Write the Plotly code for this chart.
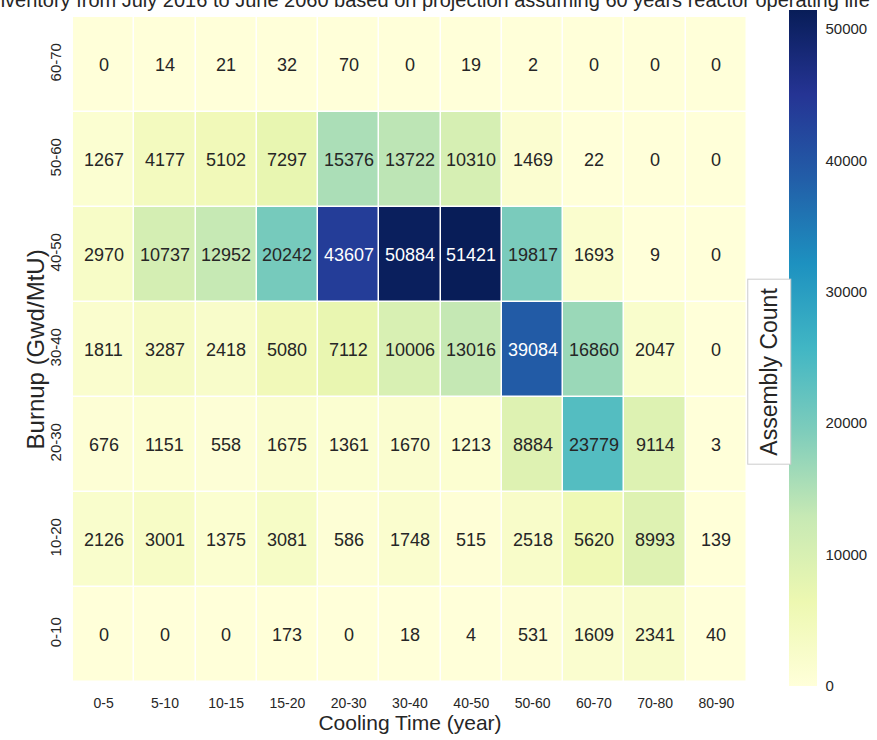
import plotly.graph_objects as go
import plotly.colors as pc

# Cooling-time bins (columns) and burnup bins (rows, bottom to top)
cooling_bins = ["0-5", "5-10", "10-15", "15-20", "20-30", "30-40",
                "40-50", "50-60", "60-70", "70-80", "80-90"]
burnup_bins = ["0-10", "10-20", "20-30", "30-40", "40-50", "50-60", "60-70"]

# Assembly counts per burnup bin, one value per cooling-time bin
burnup_0_10 = [0, 0, 0, 173, 0, 18, 4, 531, 1609, 2341, 40]
burnup_10_20 = [2126, 3001, 1375, 3081, 586, 1748, 515, 2518, 5620, 8993, 139]
burnup_20_30 = [676, 1151, 558, 1675, 1361, 1670, 1213, 8884, 23779, 9114, 3]
burnup_30_40 = [1811, 3287, 2418, 5080, 7112, 10006, 13016, 39084, 16860, 2047, 0]
burnup_40_50 = [2970, 10737, 12952, 20242, 43607, 50884, 51421, 19817, 1693, 9, 0]
burnup_50_60 = [1267, 4177, 5102, 7297, 15376, 13722, 10310, 1469, 22, 0, 0]
burnup_60_70 = [0, 14, 21, 32, 70, 0, 19, 2, 0, 0, 0]

counts = [burnup_0_10, burnup_10_20, burnup_20_30, burnup_30_40,
          burnup_40_50, burnup_50_60, burnup_60_70]

zmax = max(max(r) for r in counts)

ylgnbu = pc.sequential.YlGnBu
n = len(ylgnbu)
colorscale = [[i / (n - 1), c] for i, c in enumerate(ylgnbu)]

FONT = "Liberation Sans, Arial, sans-serif"
DARK = "#262626"

fig = go.Figure(go.Heatmap(
    z=counts,
    x=cooling_bins,
    y=burnup_bins,
    colorscale=colorscale,
    zmin=0,
    zmax=zmax,
    xgap=1.5,
    ygap=1.5,
    hoverongaps=False,
    colorbar=dict(
        x=1.062, xanchor="left", xref="paper",
        y=0.502, yanchor="middle",
        len=676, lenmode="pixels",
        thickness=28,
        xpad=0, ypad=0,
        outlinewidth=0,
        tickmode="linear", tick0=0, dtick=10000, tickformat="d",
        ticks="outside", ticklen=6, tickcolor="rgba(0,0,0,0)",
        tickfont=dict(family=FONT, size=15, color=DARK),
    ),
))

# Cell value labels: light text on the darkest cells
annotations = []
for yi, row in enumerate(counts):
    for xi, v in enumerate(row):
        annotations.append(dict(
            x=cooling_bins[xi], y=burnup_bins[yi],
            text=str(v), showarrow=False,
            font=dict(family=FONT, size=18,
                      color="white" if v / zmax > 0.6 else DARK),
        ))

# Colorbar label in a framed box
annotations.append(dict(
    xref="paper", yref="paper",
    x=1.0326, y=0.4666, xanchor="center", yanchor="middle",
    text="Assembly Count", textangle=-90, showarrow=False,
    font=dict(family=FONT, size=23, color=DARK),
    bgcolor="white", bordercolor="#cccccc", borderwidth=1, borderpad=8,
))

# Y axis title
annotations.append(dict(
    xref="paper", yref="paper",
    x=-0.055, y=0.5, xanchor="center", yanchor="middle",
    text="Burnup (Gwd/MtU)", textangle=-90, showarrow=False,
    font=dict(family=FONT, size=24, color=DARK),
))

fig.update_layout(
    width=877, height=740,
    margin=dict(l=73, r=129, t=10, b=57),
    paper_bgcolor="white",
    plot_bgcolor="white",
    title=dict(
        text="Spent Fuel Inventory from July 2016 to June 2060 based on projection assuming 60 years reactor operating life",
        xref="container", x=0.992, xanchor="right",
        yref="container", y=1.0, yanchor="middle",
        font=dict(family=FONT, size=20, color=DARK),
    ),
    xaxis=dict(
        title=dict(text="Cooling Time (year)", standoff=5,
                   font=dict(family=FONT, size=21, color=DARK)),
        tickfont=dict(family=FONT, size=14, color=DARK),
        ticks="outside", ticklen=8, tickcolor="rgba(0,0,0,0)",
        showgrid=False, zeroline=False, showline=False,
    ),
    yaxis=dict(
        tickfont=dict(family=FONT, size=15, color=DARK),
        tickangle=-90,
        ticks="outside", ticklen=5, tickcolor="rgba(0,0,0,0)",
        showgrid=False, zeroline=False, showline=False,
    ),
    annotations=annotations,
)

fig.write_html("out.html")
